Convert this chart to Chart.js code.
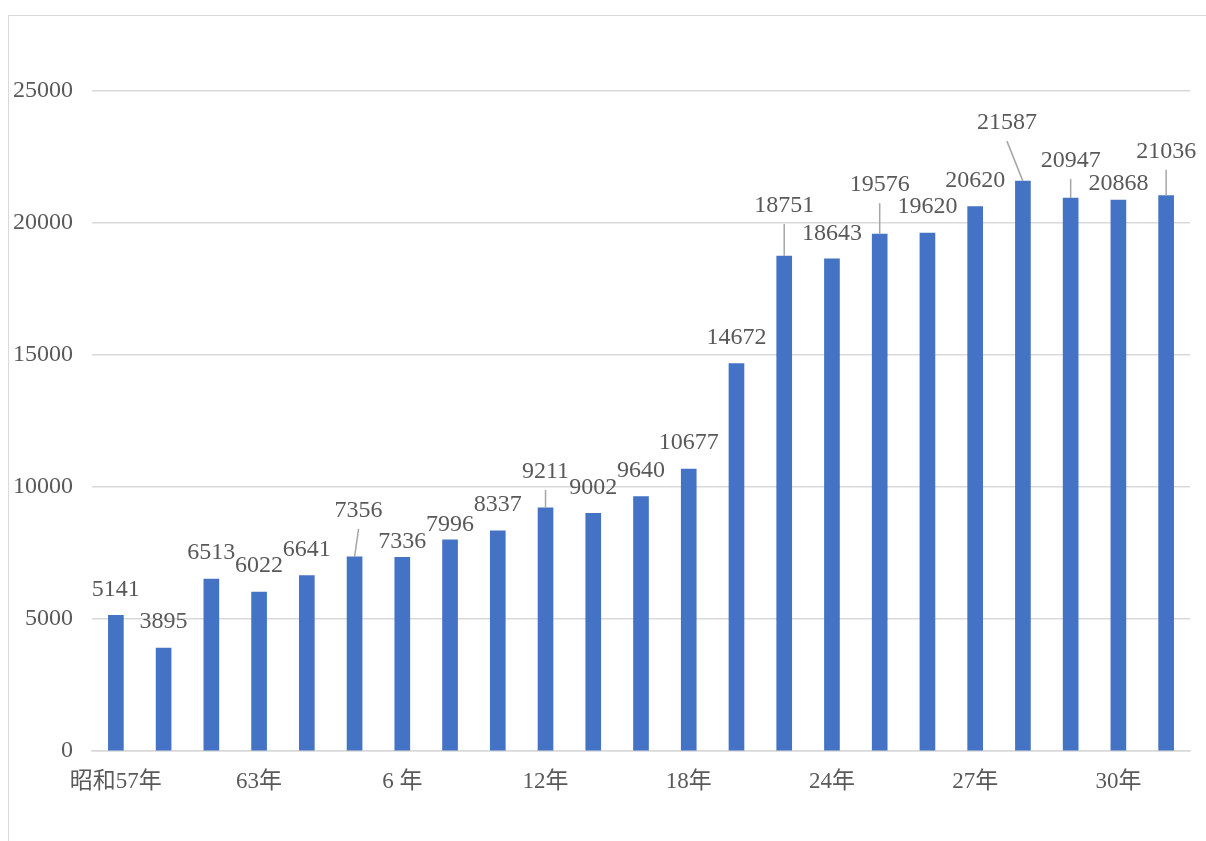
<!DOCTYPE html>
<html>
<head>
<meta charset="utf-8">
<script src="https://cdn.jsdelivr.net/npm/chart.js@4/dist/chart.umd.min.js"></script>
<style>
  html, body { margin: 0; padding: 0; background: #ffffff; }
  #wrap { position: relative; width: 1206px; height: 841px; }
  #frame { position: absolute; left: 8px; top: 15px; right: -2px; bottom: -2px; border: 1.5px solid #D9D9D9; box-sizing: border-box; }
  canvas { position: absolute; left: 0; top: 0; }
</style>
</head>
<body>
<div id="wrap">
  <div id="frame"></div>
  <canvas id="c" width="1206" height="841"></canvas>
</div>
<script>
// ---- data ----
const categories = ['昭和57年','59年','61年','63年','2年','4年','6 年','8年','10年','12年','14年','16年','18年','20年','22年','24年','25年','26年','27年','28年','29年','30年','元年'];
const values = [5141, 3895, 6513, 6022, 6641, 7356, 7336, 7996, 8337, 9211, 9002, 9640, 10677, 14672, 18751, 18643, 19576, 19620, 20620, 21587, 20947, 20868, 21036];
const yTicks = [0, 5000, 10000, 15000, 20000, 25000];

// ---- style: data label placement (pixel offsets from bar top) ----
const labelDefault = [0, -26];
const labelShift = {5:[4,-46], 6:[0,-16], 7:[0,-15], 9:[0,-36], 14:[0,-50], 15:[0,-25], 16:[0,-49], 19:[-16,-58], 20:[0,-37], 21:[0,-16], 22:[0,-44]};
const leaderIdx = [5, 9, 14, 16, 19, 20, 22];

const textColor = '#595959';
const gridColor = '#D9D9D9';
const fontFam = "'Liberation Serif', 'Noto Sans CJK JP', serif";
const fontSize = 24;

const dataLabels = {
  id: 'dataLabels',
  afterDatasetsDraw(chart) {
    const ctx = chart.ctx;
    const meta = chart.getDatasetMeta(0);
    ctx.save();
    ctx.font = fontSize + 'px ' + fontFam;
    ctx.fillStyle = textColor;
    ctx.textAlign = 'center';
    ctx.textBaseline = 'middle';
    meta.data.forEach((bar, i) => {
      const s = labelShift[i] || labelDefault;
      const lx = bar.x + s[0];
      const ly = bar.y + s[1];
      if (leaderIdx.includes(i)) {
        ctx.strokeStyle = '#A6A6A6';
        ctx.lineWidth = 1.5;
        ctx.beginPath();
        ctx.moveTo(lx, ly + 18);
        ctx.lineTo(bar.x, bar.y);
        ctx.stroke();
      }
      ctx.fillText(String(values[i]), lx, ly);
    });
    ctx.restore();
  }
};

new Chart(document.getElementById('c'), {
  type: 'bar',
  data: {
    labels: categories,
    datasets: [{
      data: values,
      backgroundColor: '#4472C4',
      borderWidth: 0,
      barThickness: 15
    }]
  },
  options: {
    responsive: false,
    animation: false,
    devicePixelRatio: 1,
    layout: { padding: { top: 91, right: 16, bottom: 0, left: 0 } },
    plugins: { legend: { display: false }, tooltip: { enabled: false } },
    scales: {
      x: {
        offset: true,
        grid: { display: false, drawTicks: false },
        border: { display: true, color: gridColor, width: 1.5 },
        ticks: {
          autoSkip: false,
          maxRotation: 0,
          padding: 17,
          color: textColor,
          font: { size: 23, family: fontFam },
          callback: (v, i) => (i % 3 === 0 ? categories[i] : '')
        },
        afterFit: (s) => { s.height = 90; }
      },
      y: {
        min: 0,
        max: 25000,
        afterBuildTicks: (s) => { s.ticks = yTicks.map(v => ({ value: v })); },
        grid: { color: gridColor, lineWidth: 1.5, drawTicks: false },
        border: { display: false },
        ticks: {
          padding: 19,
          color: textColor,
          font: { size: fontSize, family: fontFam },
          callback: (v) => String(v)
        },
        afterFit: (s) => { s.width = 92; }
      }
    }
  },
  plugins: [dataLabels]
});
</script>
</body>
</html>
